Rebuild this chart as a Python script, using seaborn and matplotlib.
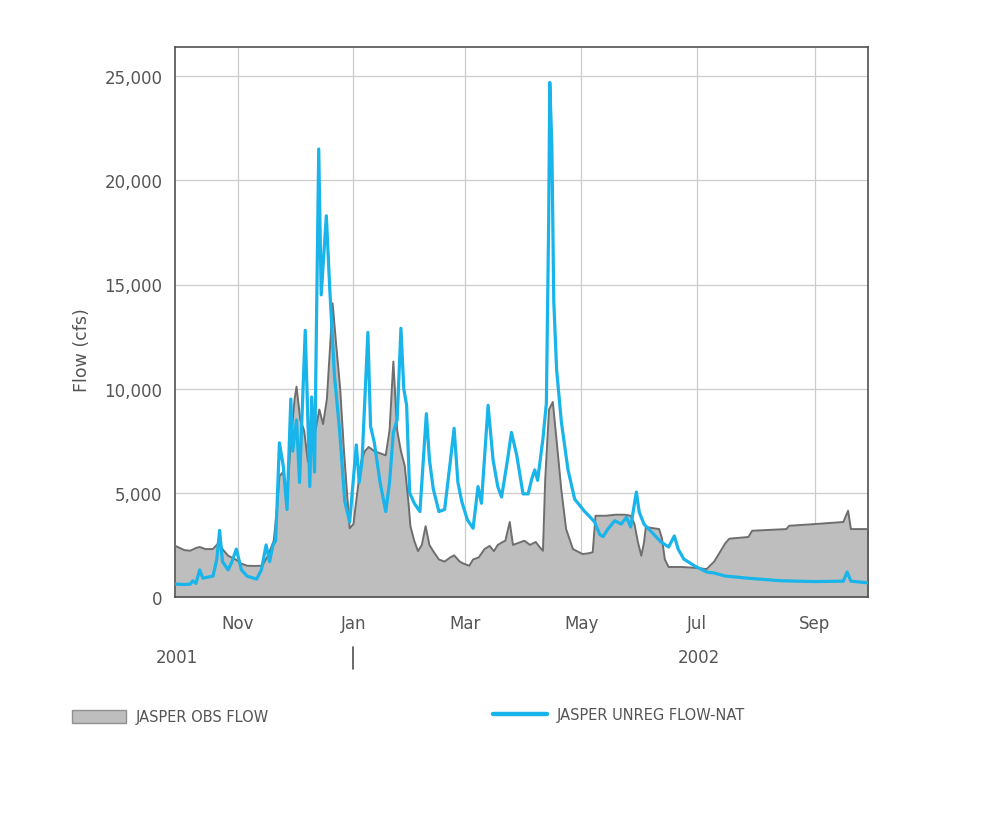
import numpy as np
import pandas as pd
import matplotlib
matplotlib.use("Agg")
import matplotlib.pyplot as plt
import matplotlib.dates as mdates
import matplotlib.transforms as mtransforms
from matplotlib.ticker import MultipleLocator, FuncFormatter
from matplotlib.patches import Patch
from matplotlib.lines import Line2D
import seaborn as sns

# ---------------- data ----------------
START = "2001-10-01"   # day offsets below are days since this date

obs_days = [-2, 3, 6, 9, 11, 14, 18, 20, 21, 23,
            26, 30, 33, 36, 40, 44, 47, 50, 52, 53,
            55, 57, 59, 61, 62, 64, 66, 68, 70, 72,
            74, 76, 78, 80, 81, 83, 85, 87, 89, 90,
            92, 94, 96, 98, 100, 103, 106, 109, 111, 113,
            115, 117, 119, 121, 122, 124, 126, 128, 130, 132,
            134, 137, 140, 143, 145, 148, 150, 153, 155, 158,
            161, 163.7, 166, 168, 170.6, 172, 174.3, 176, 179, 182,
            185, 188, 190, 191.8, 193, 195, 197, 199, 201.5, 204,
            207.6, 212.7, 216, 218, 219.5, 225, 230, 235, 238, 240,
            241.8, 243.6, 245, 246, 250, 253, 254.5, 256, 258, 265,
            272, 278, 282, 284, 286, 288, 290, 300, 302, 320,
            321.5, 335, 350, 352.5, 354, 364]
obs_flow = [2460, 2250, 2220, 2350, 2400, 2300, 2300, 2500, 2600, 2300,
            1980, 1800, 1600, 1500, 1490, 1500, 2000, 2700, 4500, 5800,
            6000, 4800, 7500, 9500, 10100, 8500, 8000, 6500, 7500, 8000,
            9000, 8300, 9500, 12500, 14100, 12000, 10000, 7000, 4500, 3300,
            3500, 5000, 6500, 7000, 7200, 7000, 6900, 6800, 8000, 11300,
            8000, 7000, 6300, 4500, 3400, 2700, 2200, 2500, 3400, 2500,
            2200, 1800, 1700, 1900, 2000, 1700, 1600, 1500, 1800, 1900,
            2300, 2450, 2200, 2500, 2640, 2700, 3600, 2500, 2600, 2700,
            2500, 2640, 2400, 2220, 5660, 9000, 9360, 7500, 5120, 3260,
            2300, 2060, 2100, 2150, 3900, 3900, 3950, 3950, 3900, 3500,
            2640, 1980, 2600, 3360, 3300, 3260, 2800, 1800, 1440, 1440,
            1400, 1340, 1700, 2000, 2300, 2600, 2800, 2880, 3180, 3260,
            3420, 3500, 3600, 4140, 3260, 3260]

nat_days = [-2, 3, 6, 7.4, 9, 11, 12.7, 15, 18, 20,
            21.5, 23, 26, 28, 30.3, 33, 36, 41, 43.5, 46,
            47.8, 49.6, 51, 52, 53, 55, 57, 59, 60, 62,
            63.6, 66.6, 69, 70, 71.5, 73.7, 75, 77.7, 79.5, 82,
            84.7, 87.4, 90, 93.5, 95, 96.5, 99.6, 101, 103, 106,
            109, 111, 113, 115, 117, 118.5, 120, 121.6, 124, 127,
            130.4, 132, 134, 137, 140, 143, 145, 147, 149, 152,
            155, 157.6, 159.4, 162.9, 165.5, 168, 170, 173, 175.2, 178,
            181.3, 184, 186, 187.5, 189, 191.8, 193.6, 194.8, 195.4, 196.5,
            197.5, 199, 201.5, 205, 208.5, 213.8, 216, 219, 221.7, 223.5,
            226, 229.6, 233, 235.8, 238, 241, 242.5, 245, 249, 254,
            258, 261, 263, 266, 271.7, 278, 282, 287.6, 300, 317,
            335, 350, 352, 354, 364]
nat_flow = [620, 600, 620, 780, 650, 1300, 900, 950, 1000, 1800,
            3200, 1700, 1300, 1700, 2300, 1300, 1000, 860, 1300, 2500,
            1700, 2500, 2700, 5000, 7400, 6300, 4200, 9500, 7000, 8500,
            5500, 12800, 5300, 9600, 6000, 21500, 14500, 18300, 14800, 10600,
            8000, 4600, 3600, 7300, 5500, 6500, 12700, 8200, 7400, 5500,
            4100, 5500, 7900, 8500, 12900, 10000, 9200, 5000, 4500, 4100,
            8800, 6600, 5200, 4100, 4200, 6500, 8100, 5500, 4600, 3700,
            3300, 5300, 4500, 9200, 6600, 5300, 4800, 6500, 7900, 6800,
            4950, 4950, 5700, 6100, 5600, 7600, 9300, 18000, 24700, 21600,
            14200, 10900, 8400, 6100, 4700, 4100, 3900, 3600, 3000, 2900,
            3260, 3660, 3500, 3830, 3360, 5040, 4080, 3500, 3120, 2640,
            2400, 2930, 2300, 1820, 1490, 1200, 1150, 1010, 900, 780,
            740, 760, 1200, 760, 670]

month_ticks = ["2001-11-01", "2002-01-01", "2002-03-01", "2002-05-01",
               "2002-07-01", "2002-09-01"]
year_labels = ["2001", "2002"]
series_names = ["JASPER OBS FLOW", "JASPER UNREG FLOW-NAT"]

# ---------------- build frames ----------------
start = pd.Timestamp(START)
obs = pd.DataFrame({"date": start + pd.to_timedelta(obs_days, unit="D"),
                    "flow": obs_flow})
nat = pd.DataFrame({"date": start + pd.to_timedelta(nat_days, unit="D"),
                    "flow": nat_flow})

# ---------------- style ----------------
sns.set_theme(style="white")
plt.rcParams["font.family"] = ["DejaVu Sans"]
TXT = "#555555"
GREY_FILL = "#BEBEBE"
GREY_LINE = "#6E6E6E"
BLUE = "#18B4EA"

fig = plt.figure(figsize=(9.83, 8.2), dpi=100)
W, H = 983, 820
ax = fig.add_axes([175 / W, 1 - 598 / H, (868 - 175) / W, (598 - 48) / H])

ax.fill_between(obs["date"], obs["flow"], 0, color=GREY_FILL, linewidth=0, zorder=2)
sns.lineplot(data=obs, x="date", y="flow", color=GREY_LINE, linewidth=1.4,
             ax=ax, zorder=3, legend=False)
sns.lineplot(data=nat, x="date", y="flow", color=BLUE, linewidth=2.3,
             ax=ax, zorder=4, legend=False)

ax.set_xlim(start + pd.Timedelta(days=-2), start + pd.Timedelta(days=363))
ax.set_ylim(0, 26400)
ax.yaxis.set_major_locator(MultipleLocator(5000))
ax.yaxis.set_major_formatter(FuncFormatter(lambda v, p: f"{int(v):,}"))
ax.set_xticks(pd.to_datetime(month_ticks))
ax.xaxis.set_major_formatter(mdates.DateFormatter("%b"))

ax.set_xlabel("")
ax.set_ylabel("")
ax.grid(True, color="#CCCCCC", linewidth=0.9)
ax.set_axisbelow(True)
for s in ax.spines.values():
    s.set_color("#505050")
    s.set_linewidth(1.2)
ax.tick_params(axis="both", direction="out", length=7, width=1.0,
               color="#505050", labelcolor=TXT, labelsize=12)
ax.tick_params(axis="x", pad=5)
ax.tick_params(axis="y", pad=2)

fig.text(82 / W, 1 - 350 / H, "Flow (cfs)", rotation=90, ha="center",
         va="center", fontsize=12.5, color=TXT)

# year row under the month labels
trans = mtransforms.blended_transform_factory(ax.transData, fig.transFigure)
ax.text(start + pd.Timedelta(days=-1), 1 - 658 / H, year_labels[0], transform=trans,
        ha="center", va="center", fontsize=12, color=TXT)
ax.text(pd.Timestamp("2002-07-02"), 1 - 658 / H, year_labels[1], transform=trans,
        ha="center", va="center", fontsize=12, color=TXT)
jan = pd.Timestamp("2002-01-01")
ax.plot([jan, jan], [1 - 648 / H, 1 - 670 / H], transform=trans, clip_on=False,
        color="#505050", linewidth=1.2)

# legend (two entries placed apart, as in the reference)
h1 = Patch(facecolor=GREY_FILL, edgecolor="#909090", linewidth=1.0)
h2 = Line2D([0], [0], color=BLUE, linewidth=3.2)
common = dict(frameon=False, borderpad=0, borderaxespad=0, handlelength=3.7,
              handleheight=0.9, handletextpad=0.7, fontsize=10.5, labelcolor=TXT)
fig.legend(handles=[h1], labels=[series_names[0]], loc="center left",
           bbox_to_anchor=(72 / W, 1 - 718 / H), **common)
fig.legend(handles=[h2], labels=[series_names[1]], loc="center left",
           bbox_to_anchor=(493 / W, 1 - 716 / H), **common)

fig.savefig("out.png", dpi=100, facecolor="white")
